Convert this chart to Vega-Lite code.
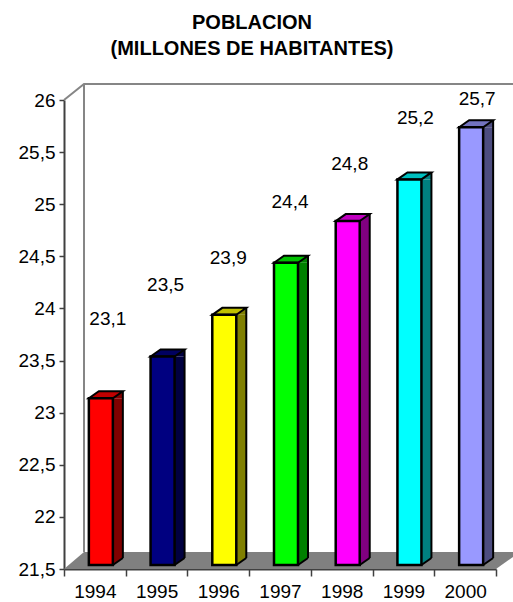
{
"$schema":"https://vega.github.io/schema/vega-lite/v6.json",
"width":432,"height":469,"autosize":"none",
"padding":{"left":64,"top":100,"right":17,"bottom":33},
"background":"white",
"config":{"view":{"stroke":null},"font":"Liberation Sans"},
"title":{"text":["POBLACION","(MILLONES DE HABITANTES)"],"font":"Liberation Sans","fontSize":20,"fontWeight":"bold","color":"black","anchor":"middle","frame":"group","dx":-28,"lineHeight":26,"offset":21},
"data":{"values":[
{"anio":"1994","valor":23.1,"etiqueta":"23,1"},
{"anio":"1995","valor":23.5,"etiqueta":"23,5"},
{"anio":"1996","valor":23.9,"etiqueta":"23,9"},
{"anio":"1997","valor":24.4,"etiqueta":"24,4"},
{"anio":"1998","valor":24.8,"etiqueta":"24,8"},
{"anio":"1999","valor":25.2,"etiqueta":"25,2"},
{"anio":"2000","valor":25.7,"etiqueta":"25,7"}]},
"encoding":{
"x":{"field":"anio","type":"nominal","title":null,"scale":{"paddingInner":0,"paddingOuter":0},
"axis":{"labelAngle":0,"tickBand":"extent","tickSize":7,"tickColor":"#404040","tickWidth":1.5,"domainColor":"#404040","domainWidth":2,"labelFont":"Liberation Sans","labelFontSize":19,"labelColor":"black","labelPadding":6,"grid":false}},
"y":{"field":"valor","type":"quantitative","title":null,"scale":{"domain":[21.5,26],"nice":false,"zero":false},
"axis":{"values":[21.5,22,22.5,23,23.5,24,24.5,25,25.5,26],"labelExpr":"replace(toString(datum.value),'.',',')","tickSize":5,"tickColor":"#404040","tickWidth":1.5,"domainColor":"#404040","domainWidth":2,"labelFont":"Liberation Sans","labelFontSize":19,"labelColor":"black","labelPadding":4,"grid":false}}
},
"layer":[
{"data":{"values":[{"anio":"1994","valor":21.5}]},
 "mark":{"type":"point","shape":"M -30.86 0 L -10.86 -17 L 425 -17 L 401.14 0 Z","size":4,"filled":true,"fill":"#808080","opacity":1}},
{"data":{"values":[{"anio":"1994","valor":26}]},
 "mark":{"type":"point","shape":"M -30.86 0 L -10.86 -16 L 425 -16 M -10.86 -16 L -10.86 452","size":4,"filled":false,"stroke":"#868686","strokeWidth":2,"opacity":1}},
{"mark":{"type":"bar","width":10,"xOffset":23,"yOffset":-4,"y2Offset":-11},
 "encoding":{"y2":{"datum":21.5},"color":{"field":"anio","type":"nominal","legend":null,"scale":{"range":["#800000","#000040","#808000","#008000","#800080","#008080","#4D4D80"]}}}},
{"mark":{"type":"point","shape":"M 18 -4 L 28 -11 L 28 -4 Z","size":4,"filled":true,"opacity":1},
 "encoding":{"color":{"field":"anio","type":"nominal","legend":null,"scale":{"range":["#800000","#000040","#808000","#008000","#800080","#008080","#4D4D80"]}}}},
{"mark":{"type":"point","shape":"M 18 -4 L 28 -11 L 18 -11 Z","size":4,"filled":true,"opacity":1},
 "encoding":{"y":{"datum":21.5},"color":{"field":"anio","type":"nominal","legend":null,"scale":{"range":["#800000","#000040","#808000","#008000","#800080","#008080","#4D4D80"]}}}},
{"mark":{"type":"rule","color":"black","strokeWidth":2,"xOffset":28,"yOffset":-11,"y2Offset":-11},
 "encoding":{"y2":{"datum":21.5}}},
{"mark":{"type":"point","shape":"M 18 -4 L 28 -11","size":4,"filled":false,"stroke":"black","strokeWidth":2,"opacity":1},
 "encoding":{"y":{"datum":21.5}}},
{"mark":{"type":"point","shape":"M -6 -4 L 4 -11 L 28 -11 L 18 -4 Z","size":4,"filled":true,"stroke":"black","strokeWidth":2,"opacity":1},
 "encoding":{"color":{"field":"anio","type":"nominal","legend":null,"scale":{"range":["#C00000","#000060","#C0C000","#00C000","#C000C0","#00C0C0","#7373BF"]}}}},
{"mark":{"type":"bar","width":24,"xOffset":6,"yOffset":-4,"y2Offset":-4,"stroke":"black","strokeWidth":2.5},
 "encoding":{"y2":{"datum":21.5},"color":{"field":"anio","type":"nominal","legend":null,"scale":{"range":["#FF0000","#000080","#FFFF00","#00FF00","#FF00FF","#00FFFF","#9999FF"]}}}},
{"transform":[{"filter":"datum.anio=='1994'"}],"mark":{"type":"text","font":"Liberation Sans","fontSize":19,"color":"black","baseline":"middle","align":"center","xOffset":13,"yOffset":-83},"encoding":{"text":{"field":"etiqueta"}}},
{"transform":[{"filter":"datum.anio=='1995'"}],"mark":{"type":"text","font":"Liberation Sans","fontSize":19,"color":"black","baseline":"middle","align":"center","xOffset":9,"yOffset":-76},"encoding":{"text":{"field":"etiqueta"}}},
{"transform":[{"filter":"datum.anio=='1996'"}],"mark":{"type":"text","font":"Liberation Sans","fontSize":19,"color":"black","baseline":"middle","align":"center","xOffset":10,"yOffset":-61},"encoding":{"text":{"field":"etiqueta"}}},
{"transform":[{"filter":"datum.anio=='1997'"}],"mark":{"type":"text","font":"Liberation Sans","fontSize":19,"color":"black","baseline":"middle","align":"center","xOffset":10,"yOffset":-65},"encoding":{"text":{"field":"etiqueta"}}},
{"transform":[{"filter":"datum.anio=='1998'"}],"mark":{"type":"text","font":"Liberation Sans","fontSize":19,"color":"black","baseline":"middle","align":"center","xOffset":8,"yOffset":-61},"encoding":{"text":{"field":"etiqueta"}}},
{"transform":[{"filter":"datum.anio=='1999'"}],"mark":{"type":"text","font":"Liberation Sans","fontSize":19,"color":"black","baseline":"middle","align":"center","xOffset":12,"yOffset":-65},"encoding":{"text":{"field":"etiqueta"}}},
{"transform":[{"filter":"datum.anio=='2000'"}],"mark":{"type":"text","font":"Liberation Sans","fontSize":19,"color":"black","baseline":"middle","align":"center","xOffset":12,"yOffset":-32},"encoding":{"text":{"field":"etiqueta"}}}
],
"resolve":{"scale":{"color":"independent"}}
}
